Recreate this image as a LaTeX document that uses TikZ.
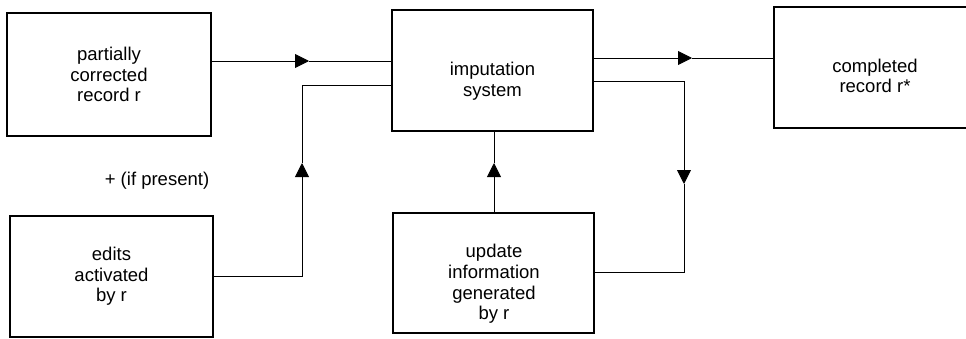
\documentclass[tikz,border=0pt]{standalone}
\usepackage{fontspec}
\setmainfont{Liberation Sans}
\usetikzlibrary{arrows.meta}
\begin{document}
\begin{tikzpicture}[x=1pt,y=-1pt,
  box/.style={draw, line width=1.1pt, minimum width=#1, inner sep=0pt},
  boxh/.style={minimum height=#1},
  txt/.style={align=center, inner sep=0pt, font=\fontsize{18.5}{20.7}\selectfont},
  conn/.style={line width=0.9pt},
  tip/.style={-{Triangle[length=14pt,width=14pt]}}]
\useasboundingbox (0,0) rectangle (966,338);
\clip (0,0) rectangle (966,338);
% boxes
\node[box=204pt, boxh=123pt, txt] (rec) at (109,74.5) {partially\\corrected\\record r};
\node[box=201pt, boxh=121pt] (imp) at (492.5,70.5) {};
\node[txt] (impt) at (492.5,81) {imputation\\system};
\node[box=202pt, boxh=121pt] (comp) at (875,67.5) {};
\node[txt] (compt) at (875,76) {completed\\record r*};
\node[box=203pt, boxh=121pt, txt] (edits) at (111.5,276.5) {edits\\activated\\by r};
\node[box=201pt, boxh=120pt] (upd) at (493.5,273) {};
\node[txt] (updt) at (494,284) {update\\information\\generated\\by r};
\node[txt] (plus) at (157,181) {+ (if present)};
% waypoints
\coordinate (t1) at (309,61);
\coordinate (t2) at (302,163);
\coordinate (c2) at (302,85);
\coordinate (t3) at (494,163);
\coordinate (t4) at (692,58);
\coordinate (c5) at (684,81);
\coordinate (t5) at (684,184);
\coordinate (c6) at (684,272);
% connectors
\draw[conn,tip] (rec.east |- t1) -- (t1);
\draw[conn] (t1) -- (imp.west |- t1);
\draw[conn,tip] (edits.east) -| (t2);
\draw[conn] (t2) -- (c2) -- (imp.west |- c2);
\draw[conn,tip] (upd.north -| t3) -- (t3);
\draw[conn] (t3) -- (imp.south -| t3);
\draw[conn,tip] (imp.east |- t4) -- (t4);
\draw[conn] (t4) -- (comp.west |- t4);
\draw[conn,tip] (imp.east |- c5) -- (c5) -- (t5);
\draw[conn] (t5) -- (c6) -- (upd.east |- c6);
\end{tikzpicture}
\end{document}
